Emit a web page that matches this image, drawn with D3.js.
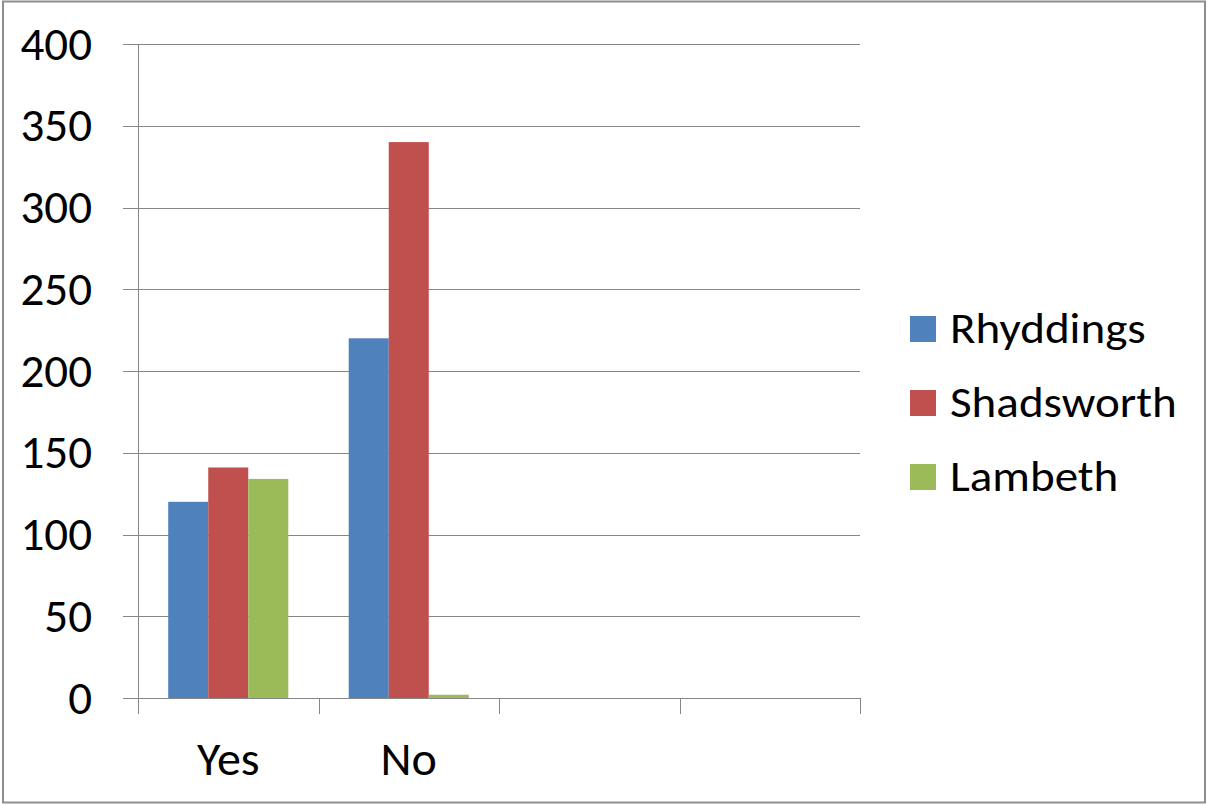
<!DOCTYPE html>
<html><head><meta charset="utf-8">
<script src="https://cdn.jsdelivr.net/npm/d3@7"></script>
<style>html,body{margin:0;padding:0;background:#fff;}svg{display:block;}</style>
</head><body>
<script>
const categories = ["Yes", "No", " ", "  "];
const seriesNames = ["Rhyddings", "Shadsworth", "Lambeth"];
const rhyddings = [120, 220, null, null];
const shadsworth = [141, 340, null, null];
const lambeth = [134, 2, null, null];
const yTicks = [0, 50, 100, 150, 200, 250, 300, 350, 400];
const colors = ["#4F81BD", "#C0504D", "#9BBB59"];

const seriesValues = [rhyddings, shadsworth, lambeth];
const W = 1208, H = 805;
const FONT = "Calibri, Carlito, Lato, sans-serif";

const svg = d3.select("body").append("svg").attr("width", W).attr("height", H);
svg.append("rect").attr("x", 3).attr("y", 1.5).attr("width", 1202).attr("height", 801)
  .attr("fill", "#fff").attr("stroke", "#8e8e8e").attr("stroke-width", 2);

const x0 = d3.scaleBand().domain(categories).range([138, 860]).padding(0);
const x1 = d3.scaleBand().domain(seriesNames).range([0, x0.bandwidth()]).paddingInner(0).paddingOuter(0.755);
const y = d3.scaleLinear().domain([0, 400]).range([698, 44]);

// gridlines
svg.append("g").selectAll("line").data(yTicks).join("line")
  .attr("x1", 123).attr("x2", 860)
  .attr("y1", d => Math.round(y(d)) + 0.5).attr("y2", d => Math.round(y(d)) + 0.5)
  .attr("stroke", "#868686").attr("stroke-width", 1);

// y axis line
svg.append("line").attr("x1", 138.5).attr("x2", 138.5).attr("y1", y(400)).attr("y2", y(0))
  .attr("stroke", "#868686");

// y labels
svg.append("g").selectAll("text").data(yTicks).join("text")
  .attr("x", 92).attr("y", d => y(d)).attr("dy", "0.33em")
  .attr("text-anchor", "end").attr("font-family", FONT).attr("font-size", 47).attr("fill", "#000")
  .text(d => d);

// bars
const rows = [];
categories.forEach((c, i) => seriesNames.forEach((s, j) => {
  const v = seriesValues[j][i];
  if (v != null) rows.push({c, s, v, j});
}));
svg.append("g").selectAll("rect").data(rows).join("rect")
  .attr("x", d => x0(d.c) + x1(d.s)).attr("width", x1.bandwidth())
  .attr("y", d => y(d.v)).attr("height", d => y(0) - y(d.v))
  .attr("fill", d => colors[d.j]);

// x axis line and ticks
svg.append("line").attr("x1", 123).attr("x2", 860).attr("y1", 698.5).attr("y2", 698.5).attr("stroke", "#868686");
const bounds = categories.map(c => x0(c)).concat([x0.range()[1]]);
svg.append("g").selectAll("line").data(bounds).join("line")
  .attr("x1", d => Math.round(d) + 0.5).attr("x2", d => Math.round(d) + 0.5)
  .attr("y1", 698).attr("y2", 714).attr("stroke", "#868686");

// x labels
svg.append("g").selectAll("text").data(categories).join("text")
  .attr("x", d => x0(d) + x0.bandwidth() / 2).attr("y", 775)
  .attr("text-anchor", "middle").attr("font-family", FONT).attr("font-size", 48).attr("fill", "#000")
  .text(d => d);

// legend
const lg = svg.append("g").selectAll("g").data(seriesNames).join("g")
  .attr("transform", (d, i) => `translate(910, ${316 + i * 74})`);
lg.append("rect").attr("width", 26).attr("height", 26).attr("fill", (d, i) => colors[i]);
lg.append("text").attr("transform", "translate(40,27) scale(1.07,1)")
  .attr("font-family", FONT).attr("font-size", 44)
  .attr("fill", "#000").text(d => d);
</script>
</body></html>
